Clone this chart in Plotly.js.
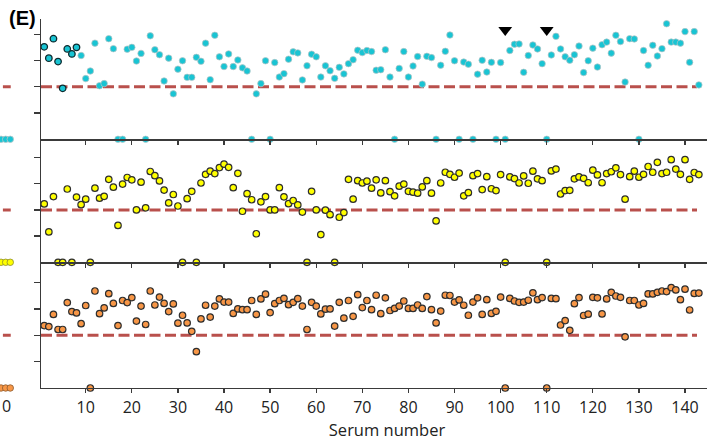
<!DOCTYPE html>
<html>
<head>
<meta charset="utf-8">
<script src="https://cdn.plot.ly/plotly-3.0.1.min.js"></script>
<style>
html, body { margin:0; padding:0; overflow:hidden; background:#fff; width:707px; height:441px; }
#chart { width:733px; height:441px; }
</style>
</head>
<body>
<div id="chart"></div>
<script>
// Serum numbers (x)
const serum = [1,2,3,4,5,6,7,8,9,10,11,12,13,14,15,16,17,18,19,20,21,22,23,24,25,26,27,28,29,30,
31,32,33,34,35,36,37,38,39,40,41,42,43,44,45,46,47,48,49,50,51,52,53,54,55,56,57,58,59,60,
61,62,63,64,65,66,67,68,69,70,71,72,73,74,75,76,77,78,79,80,81,82,83,84,85,86,87,88,89,90,
91,92,93,94,95,96,97,98,99,100,101,102,103,104,105,106,107,108,109,110,111,112,113,114,115,116,117,118,119,120,
121,122,123,124,125,126,127,128,129,130,131,132,133,134,135,136,137,138,139,140,141,142,143];

// Top panel (cyan)
const cyanValues = [3.52,3.09,3.83,2.96,1.94,3.44,3.25,3.50,3.19,2.31,2.60,3.66,2.04,2.12,3.83,3.45,0,0,3.43,3.50,
2.98,3.27,0,3.94,3.41,3.22,2.22,3.09,1.73,2.67,2.99,2.36,2.36,3.12,2.97,3.66,2.27,3.96,3.14,2.77,
3.25,2.77,3.02,2.72,2.60,0,1.73,2.12,2.99,0,2.92,2.37,2.50,3.05,3.33,3.29,2.26,2.80,3.24,3.14,
2.37,2.80,2.61,2.32,2.74,2.49,2.88,3.03,3.39,3.30,3.38,3.34,2.63,2.65,3.41,2.37,0,2.70,3.34,2.37,
2.79,3.15,2.10,3.16,3.11,0,2.82,3.35,3.97,2.99,0,2.94,2.86,0,2.48,3.01,2.56,2.93,0,2.92,
0,3.38,3.62,3.63,2.55,3.19,3.59,3.44,2.88,0,3.21,3.92,3.44,3.14,3.01,3.22,3.55,2.54,2.99,3.47,
2.75,3.60,3.70,3.28,3.96,3.72,2.18,3.83,3.82,0,3.38,2.82,3.58,3.17,3.45,4.40,3.70,3.70,3.66,4.10,
2.93,4.10,2.07];
// Serums drawn with a dark outline in the top panel
const highlightedSerum = [1,2,3,4,5,6,7,8];

// Middle panel (yellow)
const yellowValues = [2.23,1.16,2.51,0,0,2.80,0,2.49,2.20,2.41,0,2.83,2.45,2.52,3.17,2.87,1.41,2.99,3.24,3.15,
2.00,3.06,2.08,3.47,3.31,3.11,2.76,2.27,2.59,2.15,0,2.43,2.71,0,3.03,3.36,3.48,3.39,3.62,3.75,
3.63,2.85,3.40,1.95,2.62,2.39,1.09,2.31,2.51,2.00,2.00,2.85,2.50,2.24,2.36,2.19,1.92,0,2.71,2.00,
1.06,1.99,1.82,0,1.72,1.90,3.17,2.41,3.12,3.03,3.10,2.83,3.15,2.65,3.12,2.70,2.54,2.91,2.99,2.71,
2.68,2.64,2.88,3.12,2.64,1.58,3.03,3.44,3.36,3.25,3.41,2.54,2.66,3.31,3.39,2.78,3.27,2.81,2.74,3.35,
0,3.26,3.20,3.03,3.30,3.02,3.48,3.19,3.12,0,3.49,3.56,2.61,2.74,2.75,3.19,3.26,3.21,3.04,3.52,
3.34,3.04,3.39,3.46,3.61,3.35,2.41,3.27,3.48,3.25,3.36,3.66,3.44,3.82,3.39,3.44,3.92,3.56,3.36,3.92,
3.17,3.43,3.35];

// Bottom panel (orange)
const orangeValues = [2.37,2.33,2.79,2.22,2.22,3.24,2.90,2.85,2.44,3.13,0,3.68,2.82,3.04,3.58,3.21,2.37,3.32,3.24,3.43,
2.54,3.11,2.41,3.68,3.15,3.45,3.21,2.90,3.19,2.46,2.76,2.47,2.15,1.38,2.62,3.14,2.69,3.11,3.38,3.26,
3.26,2.83,3.00,2.97,2.97,3.32,2.79,3.38,3.56,2.86,3.20,3.32,3.40,3.16,3.25,3.39,3.11,2.22,3.25,3.11,
2.81,2.99,3.00,2.35,3.25,2.65,3.32,2.72,3.54,3.05,3.32,2.97,3.52,2.82,3.42,2.94,3.02,3.11,3.30,3.02,
3.02,3.15,3.02,3.47,2.97,2.47,2.92,3.52,3.51,3.26,3.34,3.14,2.76,3.26,3.42,2.79,3.35,2.83,2.91,3.45,
0,3.40,3.30,3.25,3.26,3.33,3.61,3.35,3.43,0,3.40,3.39,2.39,2.56,2.19,3.20,3.43,2.75,2.80,3.44,
3.42,2.81,3.38,3.63,3.49,3.44,1.94,3.32,3.32,3.15,3.21,3.57,3.57,3.63,3.68,3.66,3.81,3.72,3.35,3.75,
2.96,3.59,3.60];

// Threshold (dashed line) in every panel
const thresholdX = [0.3, 142.6];
const thresholdY = [2, 2];

// Arrow markers above the top panel
const arrowSerum = [101, 110];
const arrowLevel = [4.16, 4.16];

// Edge of the neighbouring (cropped) panel on the left
const edgeSerum = [141, 142, 143];
const edgeValues = [0, 0, 0];
const edgeThresholdX = [141.4, 143.1];

const xTicks = [10,20,30,40,50,60,70,80,90,100,110,120,130,140];
const xTickText = ['10','20','30','40','50','60','70','80','90','100','110','120','130','140'];
const yTicks = [1,2,3,4];

const CYAN = '#19C4D3', YELLOW = '#FFFF00', ORANGE = '#F79646', RED = '#B9504C';
const AXIS = '#3a3a3a';

const cyanLine = serum.map(s => highlightedSerum.includes(s) ? '#0d2a2e' : '#b8c4c6');
const cyanLineW = serum.map(s => highlightedSerum.includes(s) ? 1.3 : 0.7);

function dots(y, ya, xa, color, lineColor, lineW) {
  return {type:'scatter', mode:'markers', x: serum, y: y, xaxis: xa, yaxis: ya, cliponaxis:false,
    marker:{size:6.5, color: color, line:{color: lineColor, width: lineW}}, hoverinfo:'x+y', showlegend:false};
}
function dashed(ya, xa) {
  return {type:'scatter', mode:'lines', x: thresholdX, y: thresholdY, xaxis: xa, yaxis: ya, cliponaxis:false,
    line:{color: RED, width: 3, dash:'11px,4.5px'}, hoverinfo:'skip', showlegend:false};
}
function edgeDash(ya) {
  return {type:'scatter', mode:'lines', x: edgeThresholdX, y: thresholdY, xaxis:'x4', yaxis: ya, cliponaxis:false,
    line:{color: RED, width: 3}, hoverinfo:'skip', showlegend:false};
}
function edgeDots(ya, color, lineColor) {
  return {type:'scatter', mode:'markers', x: edgeSerum, y: edgeValues, xaxis:'x4', yaxis: ya, cliponaxis:false,
    marker:{size:6.5, color: color, line:{color: lineColor, width: 0.8}}, hoverinfo:'skip', showlegend:false};
}

const traces = [
  dashed('y3','x3'), dashed('y2','x2'), dashed('y','x'),
  edgeDash('y3'), edgeDash('y2'), edgeDash('y'),
  edgeDots('y3', CYAN, '#b8c4c6'), edgeDots('y2', YELLOW, '#8a8a30'), edgeDots('y', ORANGE, '#8a5a30'),
  dots(cyanValues, 'y3', 'x3', CYAN, cyanLine, cyanLineW),
  dots(yellowValues, 'y2', 'x2', YELLOW, '#2e2e2e', 1.2),
  dots(orangeValues, 'y', 'x', ORANGE, '#2e2e2e', 1.2),
  {type:'scatter', mode:'markers', x: arrowSerum, y: arrowLevel, xaxis:'x3', yaxis:'y3', cliponaxis:false,
    marker:{symbol:'triangle-down', size:12, color:'#000'}, hoverinfo:'skip', showlegend:false}
];

const W = 733, L = 41;
const xRange = [0.3, 0.3 + (W - L) / 4.61];
const xBase = {range: xRange, showgrid:false, zeroline:false, showline:true, linecolor: AXIS, linewidth:1.4,
  ticks:'outside', ticklen:4, tickwidth:1.3, tickcolor: AXIS, tickvals: xTicks, ticktext: xTickText,
  fixedrange:true, domain:[L / W, 1]};
const yBase = {showgrid:false, zeroline:false, showline:true, linecolor: AXIS, linewidth:1.4,
  ticks:'outside', ticklen:6, tickwidth:1.3, tickcolor: AXIS, tickvals: yTicks, showticklabels:false, fixedrange:true, anchor:'x'};

const layout = {
  width: W, height: 441,
  margin:{l:0, r:0, t:19, b:53},
  paper_bgcolor:'#fff', plot_bgcolor:'rgba(0,0,0,0)',
  font:{family:'"Open Sans", "Noto Sans", sans-serif', color:'#222'},
  showlegend:false,
  xaxis: Object.assign({}, xBase, {anchor:'y', showticklabels:true, tickfont:{size:16, color:'#222'},
    title:{text:'Serum number', font:{size:16.5, color:'#222'}, standoff:6}}),
  xaxis2: Object.assign({}, xBase, {anchor:'y2', showticklabels:false}),
  xaxis3: Object.assign({}, xBase, {anchor:'y3', showticklabels:false}),
  xaxis4: {domain:[0, 20 / W], range:[140.77, 140.77 + 20 / 4.61], visible:false, anchor:'y', fixedrange:true},
  yaxis: Object.assign({}, yBase, {domain:[0, 0.3407], range:[0, 4.77]}),
  yaxis2: Object.assign({}, yBase, {domain:[0.3407, 0.674], range:[0, 4.70]}),
  yaxis3: Object.assign({}, yBase, {domain:[0.674, 1], range:[0, 4.58]}),
  annotations:[
    {text:'<b>(E)</b>', xref:'paper', yref:'paper', x: 7 / W, y: 1 + 1 / 369, xanchor:'left', yanchor:'middle',
      showarrow:false, font:{family:'"Liberation Sans", Arial, sans-serif', size:20, color:'#000'}},
    {text:'0', xref:'paper', yref:'paper', x: 0, y: -18 / 369, xanchor:'left', yanchor:'middle',
      showarrow:false, font:{size:16, color:'#222'}}
  ]
};

Plotly.newPlot('chart', traces, layout, {displayModeBar:false, staticPlot:true});
</script>
</body>
</html>
